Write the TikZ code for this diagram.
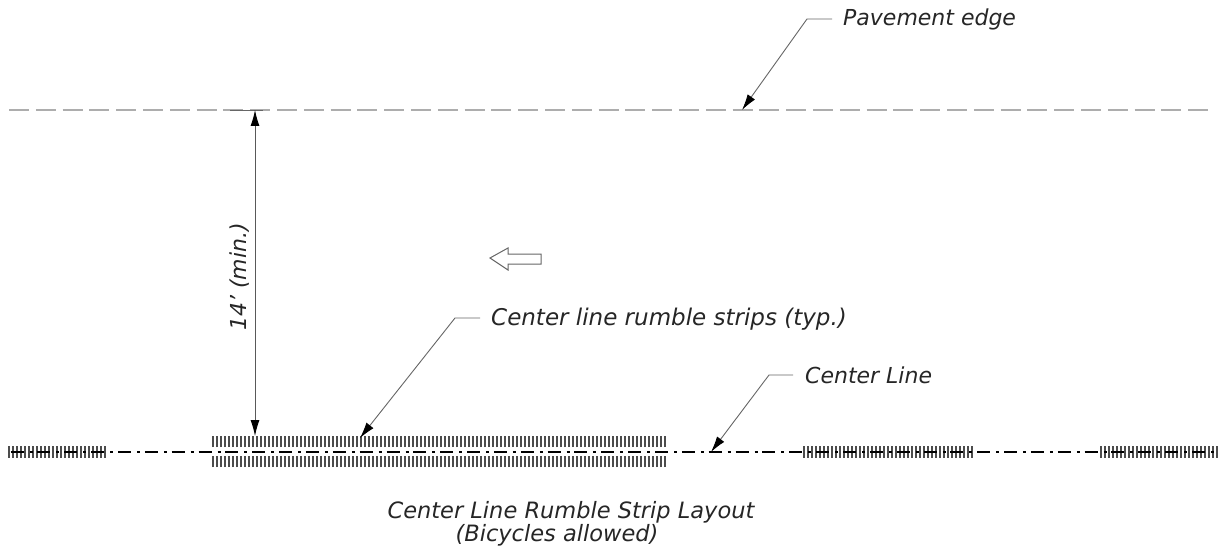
\documentclass[tikz,border=0pt]{standalone}
\usepackage{fontspec}
\setmainfont{DejaVu Sans}
\usetikzlibrary{arrows.meta}
\definecolor{edgegray}{gray}{0.68}
\tikzset{
    note/.style={
    font=\itshape\fontsize{22}{22}\selectfont,text=black!85,inner sep=0pt,anchor=base west
    },
    leader/.style={
    draw=black!60,line width=0.9pt,-{Latex[length=16pt,width=9pt,black]}
    },
    dimline/.style={
    draw=black!65,line width=0.9pt,{Latex[length=16pt,width=9pt,black]}-{Latex[length=16pt,width=9pt,black]}
    },
    edgeline/.style={
    draw=edgegray,line width=1.4pt,dash pattern=on 20pt off 6.8pt
    },
    centerline/.style={
    draw=black,line width=1.8pt,dash pattern=on 13pt off 6pt on 3pt off 4.85pt
    },
    strip/.style={
    draw=black!70,line width=2pt
    },
}
\begin{document}
\begin{tikzpicture}[x=1pt,y=1pt]
   \useasboundingbox (0,0) rectangle (1222,550);
   % labels
   \node[note] (pave) at (843,524) {Pavement edge};
   \node[note,font=\itshape\fontsize{23}{23}\selectfont] (rumble) at (491,225) {Center line rumble strips (typ.)};
   \node[note] (center) at (805,167) {Center Line};
   \node[note,anchor=center,rotate=90] (dim) at (240,273) {14' (min.)};
   \node[note,anchor=base,font=\itshape\fontsize{22.5}{23}\selectfont] (title) at (571,32) {Center Line Rumble Strip Layout};
   \node[note,anchor=base,font=\itshape\fontsize{22.5}{23}\selectfont] (subtitle) at (557,8.5) {(Bicycles allowed)};

   % pavement edge and center line
   \coordinate (e0) at (9,440);
   \coordinate (e1) at (1212,440);
   \coordinate (c0) at (10.6,98);
   \coordinate (c1) at (1217,98);
   \draw[edgeline] (e0) -- (e1);

   % strips
   \foreach \x in {9,13,...,107,804,808,...,972,1101,1105,...,1217}{
     \draw[strip] (\x,92.5) -- (\x,104);
   }
   \foreach \x in {212.5,216.5,...,668}{
     \draw[strip] (\x,103) -- (\x,114);
     \draw[strip] (\x,83) -- (\x,94);
   }
   \draw[centerline] (c0) -- (c1);

   % dimension
   \coordinate (d0) at (255,440);
   \coordinate (d1) at (255,114);
   \coordinate (t0) at (230,439.5);
   \coordinate (t1) at (263,439.5);
   \draw[draw=black!60,line width=0.9pt] (t0) -- (t1);
   \draw[dimline] (d0) -- (d1);

   % travel direction
   \draw[draw=black!60,fill=white,line width=1pt] (490,292) -- (508,302) -- (508,296) -- (541,296)
     -- (541,286) -- (508,286) -- (508,280) -- cycle;

   % leaders
   \coordinate (p0) at (832,531);
   \coordinate (p1) at (807,531);
   \coordinate (p2) at (742,440);
   \draw[leader] (p0) -- (p1) -- (p2);
   \coordinate (r0) at (480,232);
   \coordinate (r1) at (455,232);
   \coordinate (r2) at (360,112);
   \draw[leader] (r0) -- (r1) -- (r2);
   \coordinate (l0) at (793,175);
   \coordinate (l1) at (769,175);
   \coordinate (l2) at (711,98);
   \draw[leader] (l0) -- (l1) -- (l2);
\end{tikzpicture}
\end{document}
